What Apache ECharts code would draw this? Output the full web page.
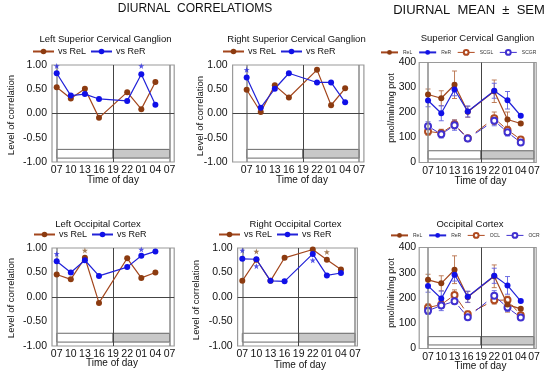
<!DOCTYPE html>
<html><head><meta charset="utf-8">
<script src="https://cdn.jsdelivr.net/npm/echarts@6/dist/echarts.min.js"></script>
<style>html,body{margin:0;padding:0;background:#fff}#c{width:550px;height:374px}</style>
</head><body><div id="c"></div>
<script>
// ---------- data ----------
const tickLabels = ['07','10','13','16','19','22','01','04','07'];
const sampleTimes = ['07','10','13','16','22','01','04'];

// Left Superior Cervical Ganglion (correlation)
const lscgReL = [0.54, 0.31, 0.51, -0.09, 0.44, 0.09, 0.65];
const lscgReR = [0.83, 0.37, 0.40, 0.30, 0.26, 0.81, 0.18];
const lscgStarsReL = [];
const lscgStarsReR = [['07', 0.98], ['01', 0.98]];

// Right Superior Cervical Ganglion (correlation)
const rscgReL = [0.49, 0.03, 0.58, 0.33, 0.90, 0.17, 0.52];
const rscgReR = [0.74, 0.12, 0.51, 0.83, 0.64, 0.64, 0.23];
const rscgStarsReL = [['22', 1.02]];
const rscgStarsReR = [['07', 0.90]];

// Superior Cervical Ganglion (mean ± SEM, pmol/min/mg prot)
const scgReL = [272, 257, 311, 203, 285, 172, 156];
const scgReLsem = [22, 30, 55, 22, 45, 30, 5];
const scgReR = [248, 197, 292, 204, 287, 249, 187];
const scgReRsem = [25, 30, 25, 22, 30, 35, 5];
const scgL = [124, 118, 153, 97, 177, 130, 92];
const scgLsem = [15, 15, 18, 10, 25, 15, 8];
const scgR = [145, 113, 149, 96, 167, 121, 80];
const scgRsem = [18, 15, 20, 10, 20, 15, 8];

// Left Occipital Cortex (correlation)
const locReL = [0.46, 0.36, 0.80, -0.12, 0.79, 0.39, 0.50];
const locReR = [0.73, 0.50, 0.75, 0.43, 0.61, 0.84, 0.93];
const locStarsReL = [['13', 0.95]];
const locStarsReR = [['07', 0.88], ['01', 0.97], ['04', 1.07]];

// Right Occipital Cortex (correlation)
const rocReL = [0.33, 0.76, 0.33, 0.80, 0.97, 0.76, 0.56];
const rocReR = [0.78, 0.77, 0.33, 0.32, 0.88, 0.44, 0.49];
const rocStarsReL = [['10', 0.93], ['22', 1.08], ['01', 0.92]];
const rocStarsReR = [['07', 0.95], ['10', 0.63], ['22', 0.75]];

// Occipital Cortex (mean ± SEM)
const ocReL = [272, 258, 312, 204, 286, 174, 157];
const ocReLsem = [22, 30, 55, 22, 45, 30, 5];
const ocReR = [248, 198, 292, 205, 288, 250, 188];
const ocReRsem = [25, 30, 25, 22, 30, 35, 5];
const ocL = [162, 174, 212, 136, 191, 192, 132];
const ocLsem = [15, 15, 20, 12, 15, 15, 10];
const ocR = [150, 170, 187, 124, 209, 162, 123];
const ocRsem = [15, 20, 10, 10, 20, 15, 10];

// ---------- helpers ----------
const FONT = '"Liberation Sans", Arial, sans-serif';
const BROWN_LINE = '#a3461d', BROWN = '#8c3b10';
const BLUE_LINE = '#2222d8', BLUE = '#1010e8';
const OPEN_BROWN = '#b04a20', OPEN_BLUE = '#4030d0';
const hourOf = t => tickLabels.indexOf(t) * 3;
const xs = sampleTimes.map(hourOf);
const pts = vals => vals.map((v, i) => [xs[i], v]);
const STAR = 'path://M0,-10 L2.35,-3.24 L9.51,-3.09 L3.8,1.24 L5.88,8.09 L0,4 L-5.88,8.09 L-3.8,1.24 L-9.51,-3.09 L-2.35,-3.24 Z';

const panels = [
  {kind:'corr', grid:{left:52, top:65, width:122.2, height:97}, xmin:-1, xmax:25},
  {kind:'corr', grid:{left:232.6, top:65, width:131.3, height:97}, xmin:-3, xmax:25},
  {kind:'mean', grid:{left:419.2, top:62.5, width:117, height:100}, xmin:-2, xmax:24.5},
  {kind:'corr', grid:{left:52, top:248, width:122.2, height:98}, xmin:-1, xmax:25},
  {kind:'corr', grid:{left:237.6, top:248, width:119.8, height:98}, xmin:-1, xmax:24.5},
  {kind:'mean', grid:{left:419.2, top:247.5, width:117, height:101}, xmin:-2, xmax:24.5}
];

const grids = [], xAxes = [], yAxes = [], series = [], legends = [];

panels.forEach((p, gi) => {
  grids.push(Object.assign({show:true, borderColor:'#9a9a9a', borderWidth:1.2, backgroundColor:'transparent',
    containLabel:false, outerBoundsMode:'none'}, p.grid));
  xAxes.push({type:'value', gridIndex:gi, min:p.xmin, max:p.xmax, interval:1,
    axisLine:{show:false}, axisTick:{show:false}, splitLine:{show:false},
    axisLabel:{margin:3, fontSize:10.5, fontFamily:FONT, color:'#111',
      formatter: v => (v >= 0 && v <= 24 && Math.abs(v % 3) < 1e-9) ? tickLabels[Math.round(v / 3)] : ''}});
  if (p.kind === 'corr') {
    yAxes.push({type:'value', gridIndex:gi, min:-1, max:1, interval:0.5,
      axisLine:{show:false}, axisTick:{show:false}, splitLine:{show:false},
      axisLabel:{margin:5, fontSize:10.5, fontFamily:FONT, color:'#111', formatter: v => v.toFixed(2)}});
  } else {
    yAxes.push({type:'value', gridIndex:gi, min:0, max:400, interval:100,
      axisLine:{show:false}, axisTick:{show:false}, splitLine:{show:false},
      axisLabel:{margin:3, fontSize:10.5, fontFamily:FONT, color:'#111'}});
  }
});

function decorations(kind) {
  const lo = kind === 'corr' ? -0.74 : 47, hi = kind === 'corr' ? -0.92 : 14;
  const lines = [
    {xAxis:0, lineStyle:{color:'#8a8a8a', width:1.5, type:'solid'}},
    {xAxis:12, lineStyle:{color:'#444', width:1, type:'solid'}},
    {xAxis:24, lineStyle:{color:'#8a8a8a', width:1.5, type:'solid'}}
  ];
  if (kind === 'corr') lines.push({yAxis:0, lineStyle:{color:'#444', width:1, type:'solid'}});
  return {
    markLine:{silent:true, symbol:'none', label:{show:false}, animation:false, data:lines},
    markArea:{silent:true, animation:false, label:{show:false}, data:[
      [{coord:[0, lo], itemStyle:{color:'#ffffff', borderColor:'#444', borderWidth:0.8}}, {coord:[12, hi]}],
      [{coord:[12, lo], itemStyle:{color:'#c8c8c8', borderColor:'#444', borderWidth:0.8}}, {coord:[24, hi]}]
    ]}
  };
}

function lineSeries(name, vals, gi, lineColor, markColor, extra) {
  return Object.assign({type:'line', name, xAxisIndex:gi, yAxisIndex:gi, data:pts(vals),
    symbol:'circle', symbolSize:6, z:5,
    lineStyle:{color:lineColor, width:1.2}, itemStyle:{color:markColor},
    emphasis:{disabled:true}, animation:false}, extra || {});
}
function openSeries(name, vals, gi, color) {
  return {type:'line', name, xAxisIndex:gi, yAxisIndex:gi, data:pts(vals),
    symbol:'emptyCircle', symbolSize:6, z:4,
    lineStyle:{color:color, width:1, opacity:0},
    itemStyle:{color:color, borderColor:color, borderWidth:1.3},
    emphasis:{disabled:true}, animation:false};
}
function gapLines(vals, gi, color) {
  const data = [];
  for (let i = 0; i < vals.length - 1; i++) data.push([xs[i], vals[i], xs[i + 1], vals[i + 1]]);
  return {type:'custom', xAxisIndex:gi, yAxisIndex:gi, silent:true, z:3, animation:false,
    encode:{x:[0, 2], y:[1, 3]}, data,
    renderItem:(params, api) => {
      const a = api.coord([api.value(0), api.value(1)]);
      const b = api.coord([api.value(2), api.value(3)]);
      const f0 = 0.3, f1 = 0.7;
      return {type:'line', shape:{x1:a[0] + (b[0] - a[0]) * f0, y1:a[1] + (b[1] - a[1]) * f0,
        x2:a[0] + (b[0] - a[0]) * f1, y2:a[1] + (b[1] - a[1]) * f1},
        style:{stroke:color, lineWidth:1}};
    }};
}
function errBars(vals, sems, gi, color) {
  return {type:'custom', xAxisIndex:gi, yAxisIndex:gi, silent:true, z:2, animation:false,
    encode:{x:0, y:1}, data: vals.map((v, i) => [xs[i], v, sems[i]]),
    renderItem:(params, api) => {
      const x = api.value(0), y = api.value(1), e = api.value(2);
      const t = api.coord([x, y + e]), b = api.coord([x, y - e]);
      const hw = 2.5, st = {stroke:color, lineWidth:0.9};
      return {type:'group', children:[
        {type:'line', shape:{x1:t[0], y1:t[1], x2:b[0], y2:b[1]}, style:st},
        {type:'line', shape:{x1:t[0] - hw, y1:t[1], x2:t[0] + hw, y2:t[1]}, style:st},
        {type:'line', shape:{x1:b[0] - hw, y1:b[1], x2:b[0] + hw, y2:b[1]}, style:st}
      ]};
    }};
}
function stars(list, gi, color) {
  return {type:'scatter', xAxisIndex:gi, yAxisIndex:gi, silent:true, z:6, animation:false,
    symbol:STAR, symbolSize:6, itemStyle:{color},
    data: list.map(s => [hourOf(s[0]), s[1]])};
}

// correlation panels
const corrSets = [
  [0, lscgReL, lscgReR, lscgStarsReL, lscgStarsReR],
  [1, rscgReL, rscgReR, rscgStarsReL, rscgStarsReR],
  [3, locReL, locReR, locStarsReL, locStarsReR],
  [4, rocReL, rocReR, rocStarsReL, rocStarsReR]
];
corrSets.forEach(([gi, rel, rer, sl, sr]) => {
  series.push(lineSeries('vs ReL', rel, gi, BROWN_LINE, BROWN, decorations('corr')));
  series.push(lineSeries('vs ReR', rer, gi, BLUE_LINE, BLUE));
  series.push(stars(sl, gi, '#8c5a2a'));
  series.push(stars(sr, gi, '#2a2ae0'));
});

// mean panels
const meanSets = [
  [2, scgReL, scgReLsem, scgReR, scgReRsem, 'SCGL', scgL, scgLsem, 'SCGR', scgR, scgRsem],
  [5, ocReL, ocReLsem, ocReR, ocReRsem, 'OCL', ocL, ocLsem, 'OCR', ocR, ocRsem]
];
meanSets.forEach(([gi, rl, rls, rr, rrs, nL, l, ls, nR, r, rs]) => {
  series.push(errBars(rl, rls, gi, '#b8704a'));
  series.push(errBars(rr, rrs, gi, '#6060e0'));
  series.push(errBars(l, ls, gi, '#b8704a'));
  series.push(errBars(r, rs, gi, '#6060e0'));
  series.push(gapLines(l, gi, OPEN_BROWN));
  series.push(gapLines(r, gi, OPEN_BLUE));
  series.push(lineSeries('ReL', rl, gi, BROWN_LINE, BROWN, decorations('mean')));
  series.push(lineSeries('ReR', rr, gi, BLUE_LINE, BLUE));
  series.push(openSeries(nL, l, gi, OPEN_BROWN));
  series.push(openSeries(nR, r, gi, OPEN_BLUE));
});

// legends
const corrLegend = (left, top) => ({left, top, width:200, orient:'horizontal', selectedMode:false,
  itemWidth:21, itemHeight:7, itemGap:4, padding:0,
  textStyle:{fontSize:9, fontFamily:FONT, color:'#111', padding:[0,0,0,-1]},
  data:['vs ReL', 'vs ReR']});
const meanLegend = (left, top, nL, nR) => ({left, top, width:300, orient:'horizontal', selectedMode:false,
  itemWidth:17, itemHeight:6, itemGap:6, padding:0,
  textStyle:{fontSize:5, fontFamily:FONT, color:'#333'},
  data:['ReL', 'ReR', {name:nL, lineStyle:{opacity:1, width:1}}, {name:nR, lineStyle:{opacity:1, width:1}}]});
legends.push(corrLegend(32, 47), corrLegend(222, 47), meanLegend(380, 49, 'SCGL', 'SCGR'),
  corrLegend(33, 230), corrLegend(218, 230), meanLegend(390, 232, 'OCL', 'OCR'));

// free text
const txt = (text, x, y, size, rot) => ({type:'text', x, y, rotation: rot || 0, silent:true,
  style:{text, font: size + 'px ' + FONT, fill:'#111', align:'center', verticalAlign:'middle',
    textAlign:'center', textVerticalAlign:'middle'}});
const graphics = [
  txt('DIURNAL  CORRELATIOMS', 195, 9, 12),
  txt('DIURNAL  MEAN  \u00b1  SEM', 469, 10, 13),
  txt('Left Superior Cervical Ganglion', 105.5, 39, 9.5),
  txt('Right Superior Cervical Ganglion', 296.5, 39, 9.5),
  txt('Superior Cervical Ganglion', 477.5, 38, 9.5),
  txt('Left Occipital Cortex', 98, 224, 9.5),
  txt('Right Occipital Cortex', 295.5, 224, 9.5),
  txt('Occipital Cortex', 470, 224, 9.5),
  txt('Time of day', 113, 180, 10), txt('Time of day', 302, 180, 10), txt('Time of day', 480.5, 181, 10),
  txt('Time of day', 112, 363, 10), txt('Time of day', 300, 365, 10), txt('Time of day', 480.5, 366, 10),
  txt('Level of correlation', 11, 115, 9.5, Math.PI / 2),
  txt('Level of correlation', 200.7, 116, 9.5, Math.PI / 2),
  txt('Level of correlation', 11, 298, 9.5, Math.PI / 2),
  txt('Level of correlation', 196.7, 300, 9.5, Math.PI / 2),
  txt('pmol/min/mg prot', 391.7, 108, 9, Math.PI / 2),
  txt('pmol/min/mg prot', 391.7, 293, 9, Math.PI / 2)
];

const chart = echarts.init(document.getElementById('c'), null, {renderer:'canvas'});
chart.setOption({
  animation:false, backgroundColor:'#fff',
  grid:grids, xAxis:xAxes, yAxis:yAxes, series, legend:legends,
  graphic:{elements:graphics}
});
</script></body></html>
